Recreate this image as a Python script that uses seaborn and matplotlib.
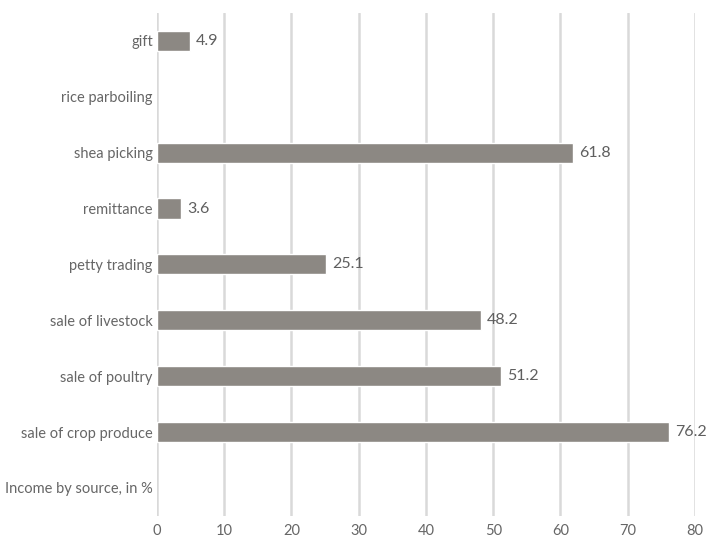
import numpy as np
import pandas as pd
import matplotlib.pyplot as plt
import seaborn as sns

# categories, top to bottom as shown
categories = ["gift", "rice parboiling", "shea picking", "remittance",
              "petty trading", "sale of livestock", "sale of poultry",
              "sale of crop produce", "Income by source, in %"]
values = [4.9, np.nan, 61.8, 3.6, 25.1, 48.2, 51.2, 76.2, np.nan]
xticks = [0, 10, 20, 30, 40, 50, 60, 70, 80]

df = pd.DataFrame({"source": categories, "pct": values})

sns.set_theme(style="white")
plt.rcParams["font.family"] = ["Lato", "DejaVu Sans"]

fig = plt.figure(figsize=(7.07, 5.38), dpi=100)
ax = fig.add_axes([0.222, 0.041, 0.761, 0.935])

sns.barplot(data=df, y="source", x="pct", order=categories, orient="h",
            color="#8c8883", saturation=1, width=0.36, ax=ax, zorder=3)

ax.set_xlim(0, 80)
ax.set_xticks(xticks)
ax.grid(axis="x", color="#d9d9d9", linewidth=1.8, zorder=0)
ax.set_axisbelow(True)
for s in ax.spines.values():
    s.set_visible(False)
ax.set_xlabel("")
ax.set_ylabel("")
ax.tick_params(axis="both", length=0, labelsize=10.5, labelcolor="#666666")
ax.tick_params(axis="x", pad=6)
ax.tick_params(axis="y", pad=3)

for i, v in enumerate(values):
    if not np.isnan(v):
        ax.text(v + 0.9, i, f"{v:.1f}", va="center", ha="left",
                fontsize=11.5, color="#5f5f5f")

fig.savefig("out.png", dpi=100)
